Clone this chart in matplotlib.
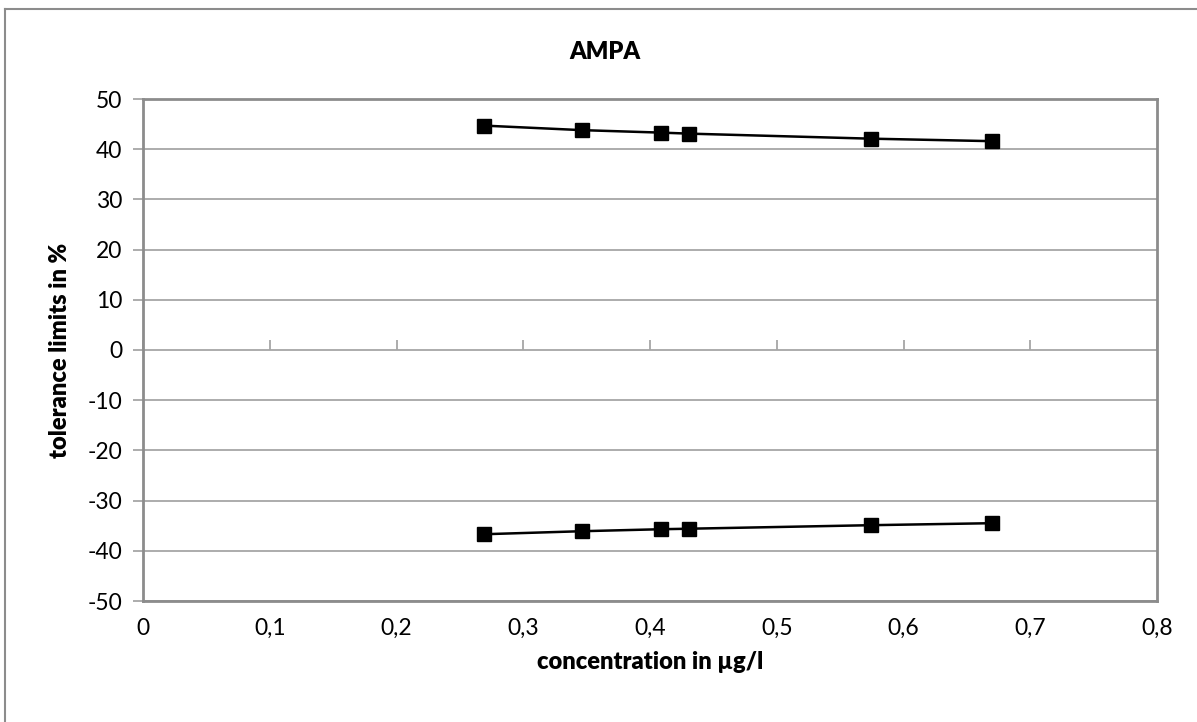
import matplotlib.pyplot as plt
from matplotlib.ticker import FuncFormatter
from matplotlib.lines import Line2D

plt.rcParams['font.family'] = ['Lato', 'DejaVu Sans']
plt.rcParams['axes.unicode_minus'] = False

conc = [0.269, 0.346, 0.409, 0.431, 0.574, 0.670]
upper = [44.7, 43.8, 43.3, 43.1, 42.1, 41.6]
lower = [-36.7, -36.1, -35.7, -35.6, -34.9, -34.5]

x_ticks = [0, 0.1, 0.2, 0.3, 0.4, 0.5, 0.6, 0.7, 0.8]
y_ticks = [-50, -40, -30, -20, -10, 0, 10, 20, 30, 40, 50]

fig = plt.figure(figsize=(11.97, 7.22), dpi=100)
ax = fig.add_axes([143 / 1197, 1 - 601 / 722, (1157 - 143) / 1197, (601 - 99) / 722])

grid_col = '#a6a6a6'
axis_col = '#8c8c8c'

ax.plot(conc, upper, color='black', lw=1.8, marker='s', ms=10, zorder=3)
ax.plot(conc, lower, color='black', lw=1.8, marker='s', ms=10, zorder=3)

ax.set_xlim(0, 0.8)
ax.set_ylim(-50, 50)
ax.set_xticks(x_ticks)
ax.set_yticks(y_ticks)
ax.xaxis.set_major_formatter(FuncFormatter(lambda v, p: ('%g' % round(v, 1)).replace('.', ',')))
ax.yaxis.grid(True, color=grid_col, lw=1.3)
ax.set_axisbelow(True)

for s in ax.spines.values():
    s.set_color(axis_col)
    s.set_linewidth(2)

ax.tick_params(axis='y', direction='out', length=7, width=1.3, color=grid_col,
               labelsize=16.5, pad=8)
ax.tick_params(axis='x', length=0, labelsize=16.5, pad=12)

# tick marks on the horizontal axis crossing at y = 0
sec = ax.secondary_xaxis(0.5)
sec.set_xticks(x_ticks)
sec.set_xticklabels([])
sec.tick_params(direction='out', length=7, width=1.3, color=grid_col)
for s in sec.spines.values():
    s.set_visible(False)

fig.text(605 / 1197, 1 - 52 / 722, 'AMPA', ha='center', va='center',
         fontsize=17, fontweight='heavy')
fig.text(650 / 1197, 1 - 662 / 722, 'concentration in µg/l', ha='center', va='center',
         fontsize=17, fontweight='heavy')
fig.text(60 / 1197, 1 - 350 / 722, 'tolerance limits in %', ha='center', va='center',
         fontsize=17, fontweight='heavy', rotation=90)

# outer chart border (left and top visible)
fig.add_artist(Line2D([5 / 1197, 5 / 1197], [0, 1 - 9 / 722], transform=fig.transFigure,
                      color=axis_col, lw=1.5))
fig.add_artist(Line2D([5 / 1197, 1], [1 - 9 / 722, 1 - 9 / 722], transform=fig.transFigure,
                      color=axis_col, lw=1.5))

fig.savefig('out.png', dpi=100)
